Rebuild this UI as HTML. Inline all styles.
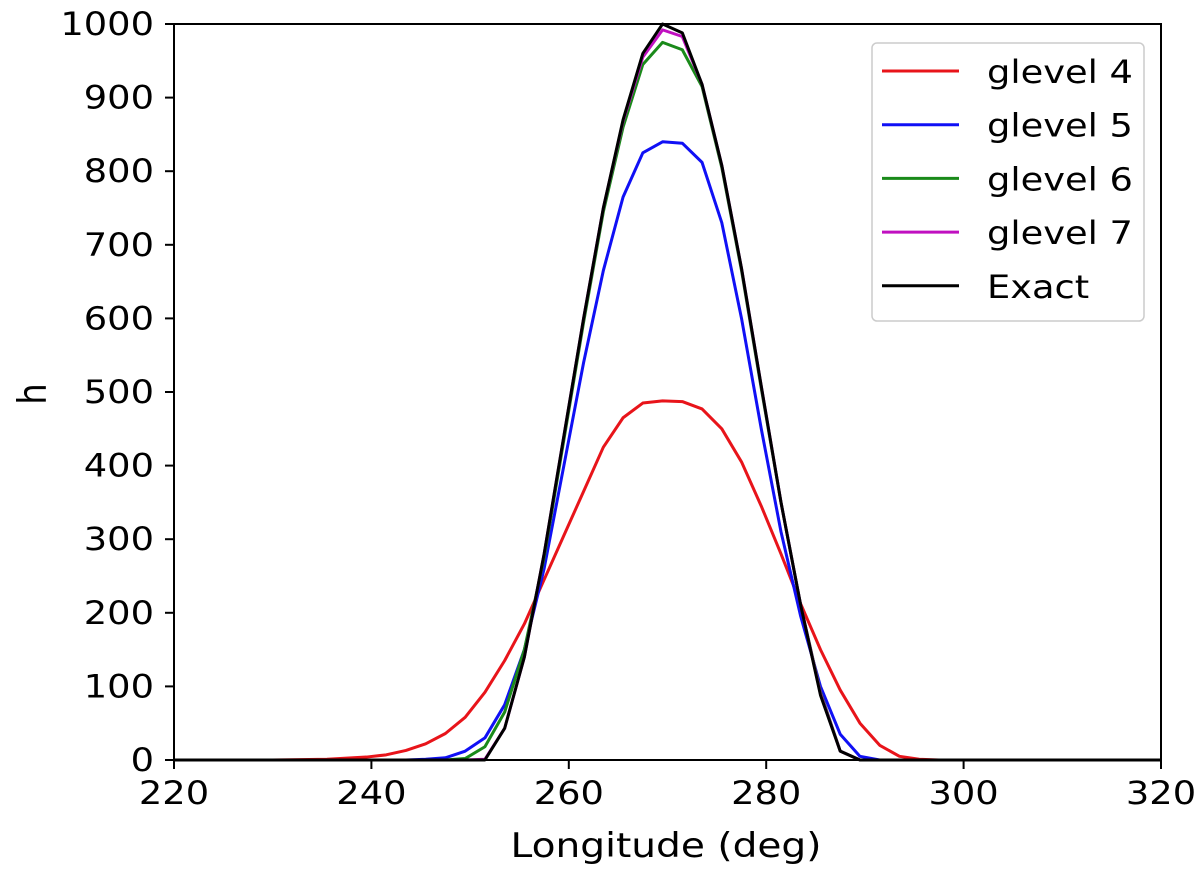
<!DOCTYPE html>
<html><head><meta charset="utf-8"><style>
html,body{margin:0;padding:0;background:#fff;width:1200px;height:872px;overflow:hidden}
svg text{font-family:"DejaVu Sans","Liberation Sans",sans-serif;fill:#000}
</style></head><body>
<svg id="chart" width="1200" height="872" xmlns="http://www.w3.org/2000/svg">
<g id="plot"></g>
<rect x="174" y="24" width="987" height="736" fill="none" stroke="#000" stroke-width="2"/>
<g id="xticks"></g>
<g id="yticks"></g>
<text transform="translate(666,857) scale(1.15,1)" font-size="34" text-anchor="middle">Longitude (deg)</text>
<text transform="translate(46,394) rotate(-90) scale(1,1.15)" font-size="34" text-anchor="middle">h</text>
<g id="legend">
<rect x="872" y="43" width="272" height="278" rx="5" fill="#fff" stroke="#ccc" stroke-width="1.5"/>
</g>
</svg>
<script>
const xTicks=[220,240,260,280,300,320];
const yTicks=[0,100,200,300,400,500,600,700,800,900,1000];
const seriesNames=["glevel 4","glevel 5","glevel 6","glevel 7","Exact"];
const seriesColors=["#e8141a","#1010f5","#1a8a1a","#c010c0","#000000"];
const redX=[220,230,235.5,239.5,241.5,243.5,245.5,247.5,249.5,251.5,253.5,255.5,257.5,259.5,261.5,263.5,265.5,267.5,269.5,271.5,273.5,275.5,277.5,279.5,281.5,283.5,285.5,287.5,289.5,291.5,293.5,295.5,297.5,320];
const redY=[0,0,1,4,7,13,22,36,58,92,135,185,245,305,365,425,465,485,488,487,477,450,405,345,280,212,150,95,50,20,5,1,0,0];
const blueX=[220,243.5,245.5,247.5,249.5,251.5,253.5,255.5,257.5,259.5,261.5,263.5,265.5,267.5,269.5,271.5,273.5,275.5,277.5,279.5,281.5,283.5,285.5,287.5,289.5,291.5,320];
const blueY=[0,0,1,3,12,30,75,150,260,400,540,665,765,825,840,838,812,730,600,450,310,195,100,35,5,0,0];
const greenX=[220,247.5,249.5,251.5,253.5,255.5,257.5,259.5,261.5,263.5,265.5,267.5,269.5,271.5,273.5,275.5,277.5,279.5,281.5,283.5,285.5,287.5,289.5,320];
const greenY=[0,0,2,18,65,150,275,435,595,745,860,945,975,965,915,805,665,505,350,210,92,12,0,0];
const magentaX=[220,249.5,251.5,253.5,255.5,257.5,259.5,261.5,263.5,265.5,267.5,269.5,271.5,273.5,275.5,277.5,279.5,281.5,283.5,285.5,287.5,289.5,320];
const magentaY=[0,0,1,43,140,280,440,600,750,868,955,992,983,918,808,668,508,350,210,90,12,0,0];
const exactX=[220,249.5,251.5,253.5,255.5,257.5,259.5,261.5,263.5,265.5,267.5,269.5,271.5,273.5,275.5,277.5,279.5,281.5,283.5,285.5,287.5,289.5,320];
const exactY=[0,0,0,43,140,280,440,600,750,870,960,1000,988,918,808,668,508,350,210,88,12,0,0];
const allX=[redX,blueX,greenX,magentaX,exactX];
const allY=[redY,blueY,greenY,magentaY,exactY];
const NS="http://www.w3.org/2000/svg";
const L=174,R=1161,T=24,B=760;
function sx(v){return L+(v-220)/(320-220)*(R-L);}
function sy(v){return B-(v-0)/(1000-0)*(B-T);}
const plot=document.getElementById('plot');
const xt=document.getElementById('xticks');
const yt=document.getElementById('yticks');
xTicks.forEach(v=>{
  const l=document.createElementNS(NS,'line');
  l.setAttribute('x1',sx(v));l.setAttribute('x2',sx(v));l.setAttribute('y1',B);l.setAttribute('y2',B+9);l.setAttribute('stroke','#000');l.setAttribute('stroke-width','2');
  
  
  xt.appendChild(l);
  const t=document.createElementNS(NS,'text');
  t.setAttribute('transform','translate('+sx(v)+','+(B+44)+') scale(1.15,1)');
  t.setAttribute('font-size','32');t.setAttribute('text-anchor','middle');
  t.textContent=v;
  
  
  xt.appendChild(t);
});
yTicks.forEach(v=>{
  const l=document.createElementNS(NS,'line');
  l.setAttribute('x1',L-9);l.setAttribute('x2',L);l.setAttribute('y1',sy(v));l.setAttribute('y2',sy(v));l.setAttribute('stroke','#000');l.setAttribute('stroke-width','2');
  
  
  yt.appendChild(l);
  const t=document.createElementNS(NS,'text');
  t.setAttribute('transform','translate('+(L-20)+','+(sy(v)+11)+') scale(1.15,1)');
  t.setAttribute('font-size','32');t.setAttribute('text-anchor','end');
  t.textContent=v;
  
  
  yt.appendChild(t);
});
allX.forEach((xs,i)=>{
  const p=document.createElementNS(NS,'polyline');
  p.setAttribute('points',xs.map((x,j)=>sx(x)+','+sy(allY[i][j])).join(' '));
  p.setAttribute('fill','none');p.setAttribute('stroke',seriesColors[i]);p.setAttribute('stroke-width','3');p.setAttribute('stroke-linejoin','round');
  
  
  plot.appendChild(p);
});
const lg=document.getElementById('legend');
seriesNames.forEach((n,i)=>{
  const y=71+i*53.7;
  const l=document.createElementNS(NS,'line');
  l.setAttribute('x1',882);l.setAttribute('x2',959);l.setAttribute('y1',y);l.setAttribute('y2',y);l.setAttribute('stroke',seriesColors[i]);l.setAttribute('stroke-width','3');
  
  
  lg.appendChild(l);
  const t=document.createElementNS(NS,'text');
  t.setAttribute('transform','translate(987,'+(y+12)+') scale(1.15,1)');
  t.setAttribute('font-size','32');
  t.textContent=n;
  
  
  lg.appendChild(t);
});
</script>
</body></html>
